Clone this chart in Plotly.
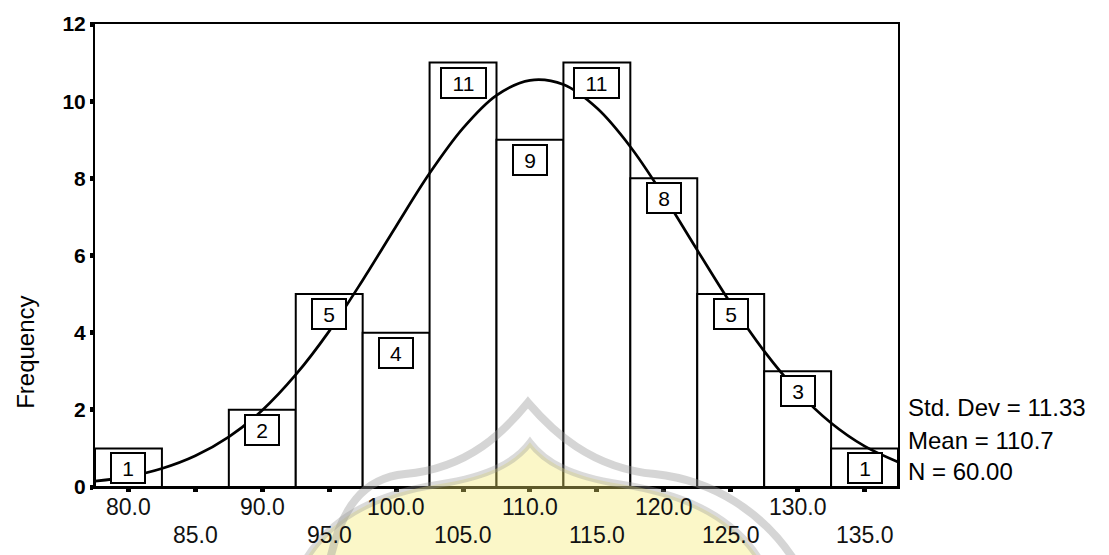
import plotly.graph_objects as go

# ---------------- data ----------------
bin_centers = [80, 85, 90, 95, 100, 105, 110, 115, 120, 125, 130, 135]
counts = [1, 0, 2, 5, 4, 11, 9, 11, 8, 5, 3, 1]
bin_width = 5

x_tick_vals = [80, 85, 90, 95, 100, 105, 110, 115, 120, 125, 130, 135]
x_tick_text = ["80.0", "85.0", "90.0", "95.0", "100.0", "105.0",
               "110.0", "115.0", "120.0", "125.0", "130.0", "135.0"]
y_tick_vals = [0, 2, 4, 6, 8, 10, 12]

# fitted normal curve
curve_x = [77.5, 80, 82.5, 85, 87.5, 90, 92.5, 95, 97.5, 100, 102.5, 105, 107.5,
           110, 112.5, 115, 117.5, 120, 122.5, 125, 127.5, 130, 132.5, 135, 137.5]
curve_y = [0.15, 0.27, 0.48, 0.81, 1.30, 1.99, 2.91, 4.04, 5.36, 6.76, 8.13, 9.30, 10.15,
           10.54, 10.43, 9.82, 8.82, 7.54, 6.14, 4.76, 3.52, 2.48, 1.66, 1.06, 0.65]

stats_lines = ["Std. Dev = 11.33", "Mean = 110.7", "N = 60.00"]
y_title = "Frequency"

# ---------------- layout geometry ----------------
W, H = 1109, 555
L, R, T, B = 95, 211, 21, 68
PW, PH = W - L - R, H - T - B


def px(x):
    return (x - L) / PW


def py(y):
    return (H - B - y) / PH


FONT = "Liberation Sans, Arial, Helvetica, sans-serif"

fig = go.Figure()

fig.add_trace(go.Bar(
    x=bin_centers, y=counts, width=bin_width,
    marker=dict(color="white", line=dict(color="black", width=2)),
    hoverinfo="skip", showlegend=False,
))

fig.add_trace(go.Scatter(
    x=curve_x, y=curve_y, mode="lines",
    line=dict(color="black", width=2.7, shape="spline", smoothing=1.0),
    hoverinfo="skip", showlegend=False,
))

annotations = []
# boxed count labels
for c, v in zip(bin_centers, counts):
    if v <= 0:
        continue
    txt = str(v)
    annotations.append(dict(
        x=c, y=v, xref="x", yref="y", text=txt, showarrow=False,
        xanchor="center", yanchor="top", yshift=-4,
        font=dict(family=FONT, size=21, color="black"),
        bgcolor="white", bordercolor="black", borderwidth=2, borderpad=2,
        width=28 if len(txt) == 1 else 39, height=24,
    ))

# staggered x tick labels
for i, (tv, tt) in enumerate(zip(x_tick_vals, x_tick_text)):
    annotations.append(dict(
        x=tv, y=0, xref="x", yref="paper", text=tt, showarrow=False,
        xanchor="center", yanchor="middle", yshift=-20 if i % 2 == 0 else -48,
        font=dict(family=FONT, size=23, color="#111111"),
    ))

# stats box text
for yy, s in zip([407, 440, 471], stats_lines):
    annotations.append(dict(
        x=px(906), y=py(yy), xref="paper", yref="paper", text=s, showarrow=False,
        xanchor="left", yanchor="middle",
        font=dict(family=FONT, size=24, color="black"),
    ))

# y axis title
annotations.append(dict(
    x=px(26), y=py(352), xref="paper", yref="paper", text=y_title, showarrow=False,
    textangle=-90, xanchor="center", yanchor="middle",
    font=dict(family=FONT, size=24, color="black"),
))


def path_px(cmds):
    out = []
    for c in cmds:
        if isinstance(c, str):
            out.append(c)
        else:
            out.append("%.4f,%.4f" % (px(c[0]), py(c[1])))
    return " ".join(out)


# watermark (pale seal overlaid on the page)
inner = path_px(["M", (300, 570), "C", (330, 510), (390, 492), (440, 484),
                 "C", (490, 476), (515, 462), (530, 442),
                 "C", (545, 462), (570, 476), (620, 484),
                 "C", (670, 492), (735, 510), (765, 570), "Z"])
outer = path_px(["M", (328, 570), "C", (340, 505), (365, 478), (405, 474),
                 "C", (470, 468), (505, 430), (528, 402),
                 "C", (552, 430), (590, 468), (655, 474),
                 "C", (710, 480), (765, 510), (800, 570)])
shapes = [
    dict(type="path", path=inner, xref="paper", yref="paper", layer="above",
         fillcolor="rgba(245,235,110,0.38)", line=dict(color="rgba(150,150,150,0.35)", width=7)),
    dict(type="path", path=outer, xref="paper", yref="paper", layer="above",
         line=dict(color="rgba(150,150,150,0.4)", width=8)),
]

fig.update_layout(
    width=W, height=H,
    margin=dict(l=L, r=R, t=T, b=B, pad=0),
    paper_bgcolor="white", plot_bgcolor="white",
    bargap=0,
    font=dict(family=FONT, color="black"),
    annotations=annotations,
    shapes=shapes,
    xaxis=dict(
        range=[77.5, 137.5], showgrid=False, zeroline=False,
        showline=True, linecolor="black", linewidth=2, mirror=True,
        tickvals=x_tick_vals, ticks="outside", ticklen=3, tickwidth=5, tickcolor="black",
        showticklabels=False,
    ),
    yaxis=dict(
        range=[0, 12], showgrid=False, zeroline=False,
        showline=True, linecolor="black", linewidth=2, mirror=True,
        tickvals=y_tick_vals, ticktext=[str(v) for v in y_tick_vals],
        ticks="outside", ticklen=3, tickwidth=5, tickcolor="black",
        tickfont=dict(family=FONT, size=21, color="black", weight="bold"),
    ),
)

fig.write_html(
    "out.html",
    config={"displayModeBar": False, "staticPlot": True},
    post_script="document.body.style.margin='0';document.body.style.overflow='hidden';",
)
